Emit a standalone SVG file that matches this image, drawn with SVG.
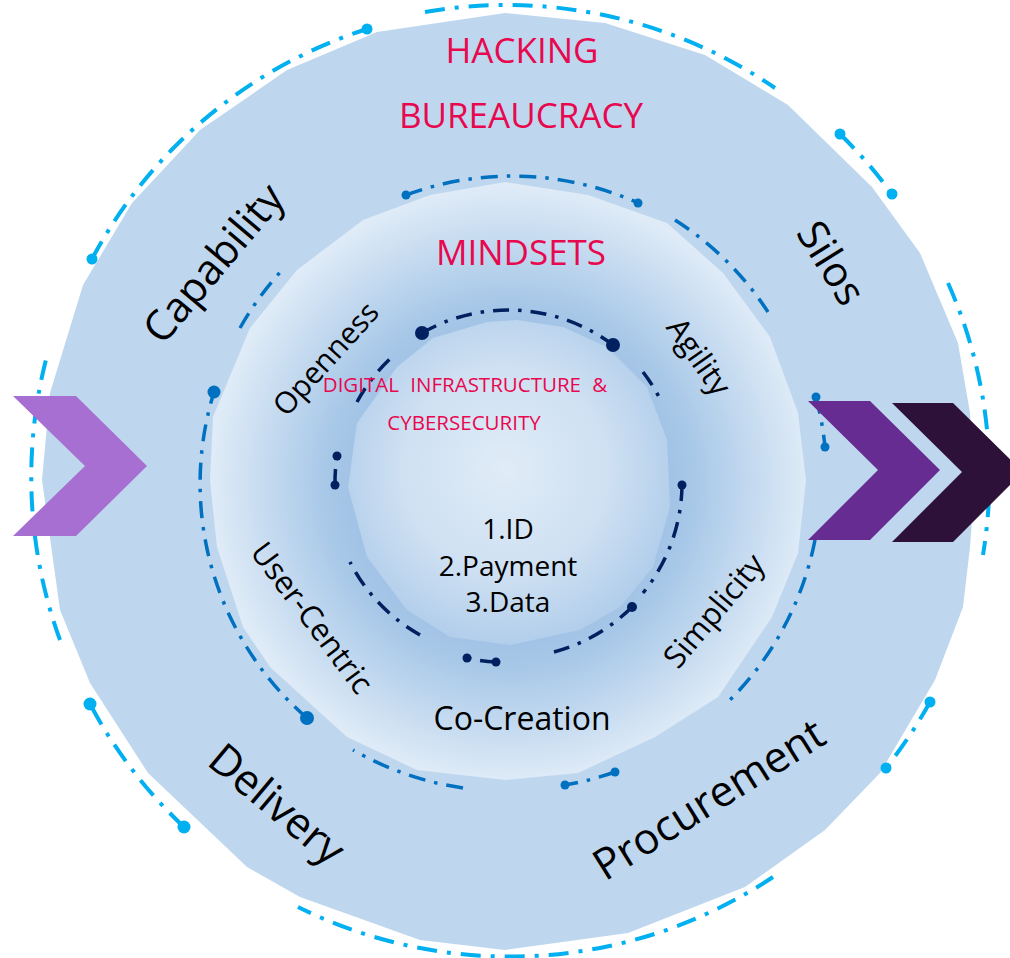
<svg xmlns="http://www.w3.org/2000/svg" width="1010" height="958" viewBox="0 0 1010 958">
<defs>
<radialGradient id="gMid" gradientUnits="userSpaceOnUse" cx="510" cy="484" r="298">
<stop offset="0.5" stop-color="#9FC1E4"/>
<stop offset="0.62" stop-color="#A8C8E8"/>
<stop offset="1" stop-color="#DFEBF7"/>
</radialGradient>
<radialGradient id="gIn" gradientUnits="userSpaceOnUse" cx="505" cy="470" r="175">
<stop offset="0" stop-color="#E0ECF7"/>
<stop offset="0.6" stop-color="#CEE0F2"/>
<stop offset="1" stop-color="#B2CEEB"/>
</radialGradient>
<style>
.ring1{fill:none;stroke:#00B0F0;stroke-width:4;stroke-dasharray:20 10 4 10}
.ring2{fill:none;stroke:#0070C0;stroke-width:3.5;stroke-dasharray:17 9 3.5 9}
.ring3{fill:none;stroke:#002060;stroke-width:3.5;stroke-dasharray:16 9 3.5 9}
.d1{fill:#00B0F0}
.d2{fill:#0070C0}
.d3{fill:#002060}
.t{font-family:"Open Sans","Noto Sans",sans-serif;fill:#000}
.r{font-family:"Open Sans","Noto Sans",sans-serif;fill:#E8084F}
</style>
</defs>

<g id="outer-band">
<polygon fill="#BED7EE" points="505,13 605,23 705,55 788,105 872,187 920,253 958,343 970,413 975,480 970,547 963,607 935,680 880,773 825,830 745,887 628,933 505,950 420,940 300,897 247,867 148,773 90,683 60,610 42,480 50,393 83,285 132,203 200,130 287,70 377,32"/>
</g>

<g id="middle-band">
<polygon fill="url(#gMid)" points="505,182 588,195 667,223 723,273 770,337 798,413 806,480 798,553 772,617 718,697 655,737 578,773 505,780 417,770 347,737 270,667 243,627 217,547 210,480 213,417 250,328 297,270 363,220 430,195"/>
</g>

<g id="inner-core">
<polygon fill="url(#gIn)" points="517,320 563,327 607,347 647,387 667,440 670,507 653,567 620,607 580,630 510,645 450,637 407,610 367,557 348,487 357,423 397,367 433,338 487,322"/>
</g>

<g id="connectors">
<g id="outer-ring">
<path class="ring1" d="M 92 259 A 476 476 0 0 1 367 29"/>
<path class="ring1" d="M 425 12 A 476 476 0 0 1 775 88"/>
<path class="ring1" d="M 840 134 A 476 476 0 0 1 892 194"/>
<path class="ring1" d="M 948 283 A 476 476 0 0 1 983 555"/>
<path class="ring1" d="M 930 702 A 476 476 0 0 1 886 768"/>
<path class="ring1" d="M 773 877 A 476 476 0 0 1 298 907"/>
<path class="ring1" d="M 184 827 A 476 476 0 0 1 90 704"/>
<path class="ring1" d="M 60 640 A 476 476 0 0 1 48 352"/>
<circle class="d1" cx="92" cy="259" r="5.5"/>
<circle class="d1" cx="367" cy="29" r="5.5"/>
<circle class="d1" cx="840" cy="134" r="5.5"/>
<circle class="d1" cx="892" cy="194" r="5.5"/>
<circle class="d1" cx="930" cy="702" r="5.5"/>
<circle class="d1" cx="886" cy="768" r="5.5"/>
<circle class="d1" cx="184" cy="827" r="6.5"/>
<circle class="d1" cx="90" cy="704" r="6.5"/>
</g>
<g id="middle-ring">
<path class="ring2" d="M 406 195 A 307 307 0 0 1 638 203"/>
<path class="ring2" d="M 675 220 A 309 309 0 0 1 768 312"/>
<path class="ring2" d="M 240 328 A 308 308 0 0 1 284 268"/>
<path class="ring2" d="M 307 718 A 310 310 0 0 1 214 392"/>
<path class="ring2" d="M 463 788 A 312 312 0 0 1 353 750"/>
<path class="ring2" d="M 615 772 A 312 312 0 0 1 565 785"/>
<path class="ring2" d="M 815 540 A 312 312 0 0 1 728 702"/>
<path class="ring2" d="M 816 397 A 320 320 0 0 1 825 447"/>
<circle class="d2" cx="406" cy="195" r="4.5"/>
<circle class="d2" cx="638" cy="203" r="4.5"/>
<circle class="d2" cx="214" cy="392" r="6.5"/>
<circle class="d2" cx="307" cy="718" r="7"/>
<circle class="d2" cx="615" cy="772" r="4.5"/>
<circle class="d2" cx="565" cy="785" r="4.5"/>
<circle class="d2" cx="816" cy="397" r="4.5"/>
<circle class="d2" cx="825" cy="447" r="4.5"/>
</g>
<g id="inner-ring">
<path class="ring3" d="M 422 333 A 174 174 0 0 1 613 345"/>
<path class="ring3" d="M 643 372 A 174 174 0 0 1 659 397"/>
<path class="ring3" d="M 357 402 A 174 174 0 0 1 392 357"/>
<path class="ring3" d="M 335 485 A 174 174 0 0 1 337 456"/>
<path class="ring3" d="M 682 485 A 174 174 0 0 1 643 593"/>
<path class="ring3" d="M 632 607 A 174 174 0 0 1 550 653"/>
<path class="ring3" d="M 420 635 A 174 174 0 0 1 350 562"/>
<path class="ring3" d="M 496 662 A 174 174 0 0 1 467 658"/>
<circle class="d3" cx="422" cy="333" r="7"/>
<circle class="d3" cx="613" cy="345" r="7"/>
<circle class="d3" cx="337" cy="456" r="4.5"/>
<circle class="d3" cx="335" cy="485" r="4.5"/>
<circle class="d3" cx="682" cy="485" r="4.5"/>
<circle class="d3" cx="632" cy="607" r="5"/>
<circle class="d3" cx="467" cy="658" r="4.5"/>
<circle class="d3" cx="496" cy="662" r="4.5"/>
</g>
</g>

<g id="titles">
<text class="r" x="522" y="63" font-size="35" text-anchor="middle">HACKING</text>
<text class="r" x="521" y="128" font-size="35" text-anchor="middle">BUREAUCRACY</text>
<text class="r" x="521" y="265" font-size="35" text-anchor="middle">MINDSETS</text>
<text class="r" x="465" y="392" font-size="20.5" text-anchor="middle" word-spacing="6">DIGITAL INFRASTRUCTURE &amp;</text>
<text class="r" x="464" y="430" font-size="20.5" text-anchor="middle">CYBERSECURITY</text>
</g>

<g id="core-list">
<text class="t" x="508" y="539" font-size="28" text-anchor="middle">1.ID</text>
<text class="t" x="508" y="576" font-size="28" text-anchor="middle">2.Payment</text>
<text class="t" x="508" y="612" font-size="28" text-anchor="middle">3.Data</text>
</g>

<g id="mindset-labels">
<text class="t" x="325" y="358" font-size="30" text-anchor="middle" dominant-baseline="central" transform="rotate(-48 325 358)">Openness</text>
<text class="t" x="700" y="356" font-size="31" text-anchor="middle" dominant-baseline="central" transform="rotate(55 700 356)">Agility</text>
<text class="t" x="313" y="617" font-size="31" text-anchor="middle" dominant-baseline="central" transform="rotate(53 313 617)">User-Centric</text>
<text class="t" x="713" y="610" font-size="31" text-anchor="middle" dominant-baseline="central" transform="rotate(-50 713 610)">Simplicity</text>
<text class="t" x="522" y="730" font-size="32" text-anchor="middle">Co-Creation</text>
</g>

<g id="bureaucracy-labels">
<text class="t" x="212" y="262" font-size="42" text-anchor="middle" dominant-baseline="central" transform="rotate(-50 212 262)">Capability</text>
<text class="t" x="833" y="262" font-size="42" text-anchor="middle" dominant-baseline="central" transform="rotate(58 833 262)">Silos</text>
<text class="t" x="278" y="803" font-size="43" text-anchor="middle" dominant-baseline="central" transform="rotate(40 278 803)">Delivery</text>
<text class="t" x="708" y="798" font-size="43" text-anchor="middle" dominant-baseline="central" transform="rotate(-32 708 798)">Procurement</text>
</g>

<g id="chevron-left">
<polygon fill="#A66FD1" points="13,396 76,396 147,466 76,536 13,536 85,466"/>
</g>
<g id="chevron-right-1">
<polygon fill="#672C91" points="808,401 870,401 940,470 870,540 808,540 878,470"/>
</g>
<g id="chevron-right-2">
<polygon fill="#2E1139" points="892,403 953,403 1023,472 953,542 892,542 962,472"/>
</g>
</svg>
